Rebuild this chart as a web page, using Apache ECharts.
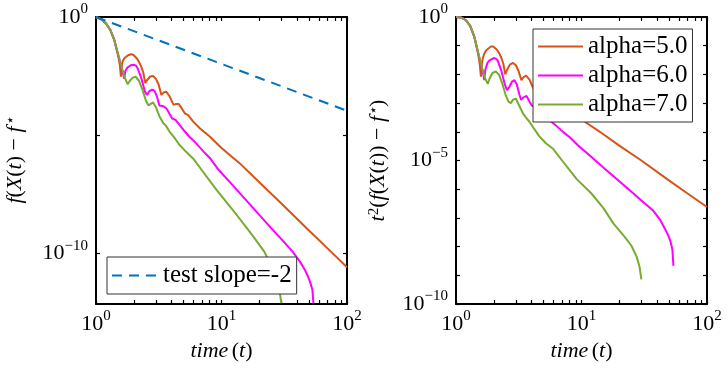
<!DOCTYPE html>
<html><head><meta charset="utf-8">
<script src="https://cdn.jsdelivr.net/npm/echarts@6/dist/echarts.min.js"></script>
<style>html,body{margin:0;padding:0;background:#fff}#c{width:727px;height:370px}</style>
</head><body><div id="c"></div>
<script>
// ---- axis ticks / labels ----
const xTickLabels = [1, 10, 100];
const xTicks = [1,2,3,4,5,6,7,8,9,10,20,30,40,50,60,70,80,90,100];
const leftYTickLabels = [1, 1e-10];
const leftYTicks = [1, 1e-5, 1e-10];
const rightYTickLabels = [1, 1e-5, 1e-10];
const rightYTicks = [1,1e-1,1e-2,1e-3,1e-4,1e-5,1e-6,1e-7,1e-8,1e-9,1e-10];
const leftYRange = [7e-13, 1];
const rightYRange = [1e-10, 1];

// ---- reference slope line (left panel) ----
const slopeT = [1, 100];
const slopeVal = [1, 1.07e-4];

// ---- alpha = 5.0 (log10 of values) ----
const tOrange = [1, 1.1, 1.2, 1.3, 1.4, 1.5, 1.55, 1.58, 1.61, 1.64, 1.68, 1.74, 1.8, 1.9, 1.98, 2.05, 2.12, 2.2, 2.3, 2.38, 2.47, 2.53, 2.58, 2.7, 2.85, 3.0, 3.15, 3.32, 3.45, 3.62, 3.85, 4.15, 4.35, 4.55, 4.8, 5.1, 5.4, 5.95, 6.75, 8.1, 10, 14, 20, 30, 50, 70, 100];
const leftOrangeLog10 = [0, -0.1, -0.27, -0.55, -0.98, -1.62, -2.05, -2.53, -2.0, -1.85, -1.75, -1.67, -1.62, -1.58, -1.6, -1.66, -1.76, -1.9, -2.12, -2.35, -2.8, -2.7, -2.62, -2.52, -2.5, -2.62, -2.85, -3.3, -3.2, -3.16, -3.35, -3.72, -3.68, -3.68, -3.85, -4.08, -4.15, -4.43, -4.72, -5.07, -5.55, -6.2, -7.0, -7.9, -9.05, -9.8, -10.6];
const rightOrangeLog10 = [0, -0.02, -0.11, -0.32, -0.69, -1.27, -1.68, -2.08, -1.6, -1.42, -1.28, -1.16, -1.1, -1.03, -1.03, -1.06, -1.14, -1.25, -1.43, -1.62, -2.0, -1.88, -1.8, -1.65, -1.6, -1.68, -1.88, -2.2, -2.1, -2.04, -2.18, -2.5, -2.42, -2.38, -2.5, -2.68, -2.7, -2.88, -3.06, -3.26, -3.57, -4.0, -4.48, -5.0, -5.7, -6.15, -6.62];

// ---- alpha = 6.0 ----
const tMagenta = [1, 1.1, 1.2, 1.3, 1.4, 1.5, 1.6, 1.66, 1.68, 1.71, 1.78, 1.84, 1.9, 2.0, 2.08, 2.15, 2.3, 2.45, 2.55, 2.65, 2.8, 2.92, 3.05, 3.2, 3.3, 3.45, 3.65, 3.85, 4.05, 4.3, 4.6, 5.1, 5.5, 6.15, 7.2, 8.1, 9.4, 12, 15, 20, 25, 30, 37, 42, 46, 49, 51, 53, 54];
const leftMagentaLog10 = [0, -0.1, -0.27, -0.55, -0.98, -1.6, -2.15, -2.5, -2.62, -2.3, -2.14, -2.07, -2.04, -2.02, -2.06, -2.18, -2.6, -3.15, -3.3, -3.15, -3.08, -3.12, -3.35, -3.75, -3.82, -3.78, -3.88, -4.1, -4.3, -4.36, -4.55, -4.85, -5.05, -5.3, -5.7, -5.98, -6.45, -7.07, -7.64, -8.38, -8.95, -9.41, -9.95, -10.35, -10.69, -11.0, -11.25, -11.55, -12.12];
const rightMagentaLog10 = [0, -0.02, -0.11, -0.32, -0.69, -1.25, -1.75, -2.05, -2.2, -1.85, -1.6, -1.52, -1.47, -1.43, -1.45, -1.52, -1.88, -2.35, -2.55, -2.45, -2.25, -2.2, -2.35, -2.7, -2.88, -2.8, -2.75, -2.95, -3.1, -3.12, -3.25, -3.45, -3.59, -3.75, -4.02, -4.2, -4.48, -4.88, -5.25, -5.72, -6.09, -6.39, -6.73, -7.05, -7.36, -7.6, -7.8, -8.1, -8.67];

// ---- alpha = 7.0 ----
const tGreen = [1, 1.1, 1.2, 1.3, 1.4, 1.5, 1.6, 1.7, 1.79, 1.85, 1.95, 2.07, 2.2, 2.35, 2.5, 2.62, 2.73, 2.85, 3.0, 3.2, 3.44, 3.6, 3.85, 4.2, 4.6, 5.2, 5.96, 7, 9.16, 12, 14.9, 18, 22, 25, 27.5, 29, 30];
const leftGreenLog10 = [0, -0.1, -0.27, -0.55, -0.98, -1.58, -2.12, -2.58, -2.85, -2.72, -2.58, -2.53, -2.7, -3.1, -3.55, -3.75, -3.68, -3.62, -3.82, -4.2, -4.5, -4.6, -4.85, -5.1, -5.4, -5.7, -6.0, -6.5, -7.33, -8.1, -8.74, -9.31, -9.95, -10.55, -11.15, -11.6, -12.12];
const rightGreenLog10 = [0, -0.02, -0.11, -0.32, -0.69, -1.23, -1.72, -2.12, -2.33, -2.15, -1.95, -1.9, -2.0, -2.35, -2.75, -2.95, -3.0, -2.88, -2.85, -3.1, -3.38, -3.5, -3.65, -3.9, -4.15, -4.4, -4.6, -5.0, -5.65, -6.15, -6.65, -7.2, -7.65, -7.97, -8.35, -8.7, -9.14];

const names = ['alpha=5.0', 'alpha=6.0', 'alpha=7.0'];
const slopeName = 'test slope=-2';
const colors = ['#D95319', '#FF00FF', '#77AC30'];
const slopeColor = '#0072BD';

const SERIF = '"Liberation Serif", "DejaVu Serif", serif';
const pairs = (t, lg) => t.map((x, i) => [x, Math.pow(10, lg[i])]);

function powLabel(v) {
  const e = Math.round(Math.log10(v));
  const s = e < 0 ? '\u2212' + (-e) : String(e);
  return '{b|10}{s|' + s + '}';
}
const labelRich = {
  b: { fontFamily: SERIF, fontSize: 22, color: '#000', lineHeight: 30 },
  s: { fontFamily: SERIF, fontSize: 15, color: '#000', verticalAlign: 'top', lineHeight: 15 }
};
const nameRich = {
  i: { fontFamily: SERIF, fontStyle: 'italic', fontSize: 22, color: '#000' },
  n: { fontFamily: SERIF, fontSize: 22, color: '#000' },
  s: { fontFamily: SERIF, fontStyle: 'italic', fontSize: 15, color: '#000', verticalAlign: 'top' },
  q: { fontFamily: SERIF, fontSize: 15, color: '#000', verticalAlign: 'top' }
};

function xAx(grid, pos, withLabel) {
  return {
    type: 'log', logBase: 10, gridIndex: grid, position: pos, min: 1, max: 100,
    axisLine: { show: true, lineStyle: { color: '#000', width: 2 } },
    axisTick: { show: true, inside: true, length: 4, customValues: xTicks, lineStyle: { color: '#000', width: 1.2 } },
    minorTick: { show: false }, splitLine: { show: false },
    axisLabel: withLabel ? { show: true, customValues: xTickLabels, formatter: powLabel, rich: labelRich, margin: 5 } : { show: false },
    name: withLabel ? '{i|time} {n|(}{i|t}{n|)}' : '',
    nameLocation: 'middle', nameGap: 34,
    nameTextStyle: { rich: nameRich }
  };
}
function yAx(grid, pos, range, ticks, labels, name, nameGap) {
  return {
    type: 'log', logBase: 10, gridIndex: grid, position: pos, min: range[0], max: range[1],
    axisLine: { show: true, lineStyle: { color: '#000', width: 2 } },
    axisTick: { show: true, inside: true, length: 4, customValues: ticks, lineStyle: { color: '#000', width: 1.2 } },
    minorTick: { show: false }, splitLine: { show: false },
    axisLabel: labels ? { show: true, customValues: labels, formatter: powLabel, rich: labelRich, margin: 8 } : { show: false },
    name: name || '', nameLocation: 'middle', nameGap: nameGap || 0,
    nameTextStyle: { rich: nameRich }
  };
}

const line = (name, data, color, xi, yi, extra) => Object.assign({
  type: 'line', name, data, xAxisIndex: xi, yAxisIndex: yi,
  symbol: 'none', showSymbol: false, clip: true, animation: false,
  lineStyle: { color, width: 2 }, itemStyle: { color }
}, extra || {});

const legendBase = {
  orient: 'vertical', itemHeight: 14, itemGap: 4,
  backgroundColor: '#fff', borderColor: '#333', borderWidth: 1, borderRadius: 0,
  itemStyle: { opacity: 0, borderWidth: 0 },
  textStyle: { fontFamily: SERIF, fontSize: 25, color: '#000', lineHeight: 24 },
  selectedMode: false
};

const option = {
  animation: false,
  backgroundColor: '#fff',
  grid: [
    { left: 96, right: 380, top: 17, bottom: 66 },
    { left: 456, right: 20, top: 17, bottom: 66 }
  ],
  xAxis: [
    xAx(0, 'bottom', true), xAx(0, 'top', false),
    xAx(1, 'bottom', true), xAx(1, 'top', false)
  ],
  yAxis: [
    yAx(0, 'left', leftYRange, leftYTicks, leftYTickLabels,
        '{i|f}{n|(}{i|X}{n|(}{i|t}{n|) \u2212 }{i|f}{s|\u22C6}', 70),
    yAx(0, 'right', leftYRange, leftYTicks, null),
    yAx(1, 'left', rightYRange, rightYTicks, rightYTickLabels,
        '{i|t}{q|2}{n|(}{i|f}{n|(}{i|X}{n|(}{i|t}{n|)) \u2212 }{i|f}{s|\u22C6}{n|)}', 67),
    yAx(1, 'right', rightYRange, rightYTicks, null)
  ],
  legend: [
    Object.assign({}, legendBase, {
      data: [slopeName], left: 107, top: 257, itemWidth: 46,
      padding: [6, 5, 6, 4]
    }),
    Object.assign({}, legendBase, {
      data: names, left: 533, top: 29, itemWidth: 45,
      padding: [5, 5, 5, 4]
    })
  ],
  series: [
    line(names[0], pairs(tOrange, leftOrangeLog10), colors[0], 0, 0),
    line(names[1], pairs(tMagenta, leftMagentaLog10), colors[1], 0, 0),
    line(names[2], pairs(tGreen, leftGreenLog10), colors[2], 0, 0),
    line(slopeName, slopeT.map((x, i) => [x, slopeVal[i]]), slopeColor, 0, 0,
         { lineStyle: { color: slopeColor, width: 2, type: [10, 7] } }),
    line(names[0], pairs(tOrange, rightOrangeLog10), colors[0], 2, 2),
    line(names[1], pairs(tMagenta, rightMagentaLog10), colors[1], 2, 2),
    line(names[2], pairs(tGreen, rightGreenLog10), colors[2], 2, 2)
  ]
};
const chart = echarts.init(document.getElementById('c'), null, { renderer: 'canvas' });
chart.setOption(option);
</script>
</body></html>
